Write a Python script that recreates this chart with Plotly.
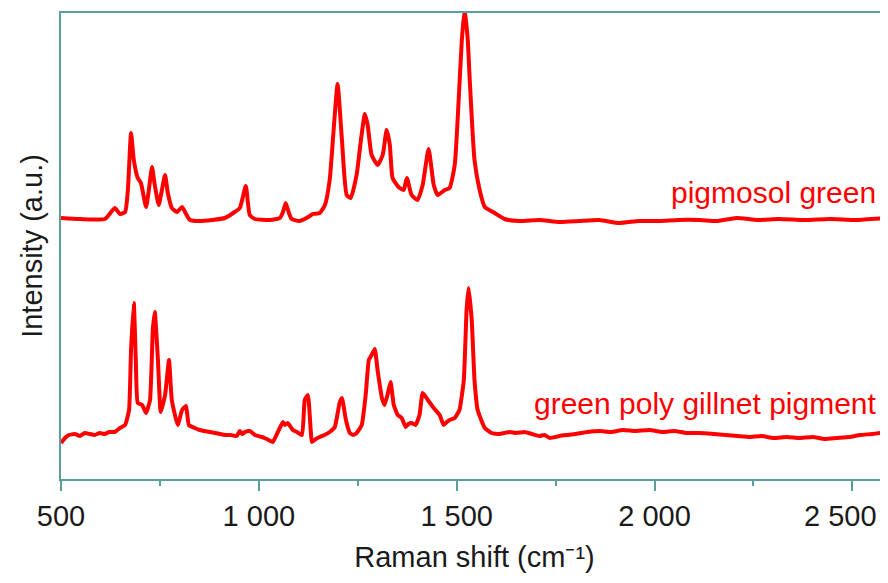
import plotly.graph_objects as go

# Raman shift (cm-1) and intensity (a.u., offset spectra as displayed)
pig_shift = [500, 548, 611, 636, 649, 662, 669, 677, 684, 694, 702, 715, 722, 730, 737, 747, 755, 763,
             770, 780, 793, 806, 816, 826, 851, 914, 939, 952, 967, 977, 990, 1028, 1053, 1061, 1068,
             1076, 1083, 1103, 1129, 1136, 1154, 1167, 1179, 1189, 1199, 1210, 1222, 1232, 1247, 1258,
             1268, 1275, 1285, 1300, 1313, 1323, 1331, 1338, 1353, 1366, 1374, 1386, 1401, 1414, 1429,
             1442, 1452, 1470, 1482, 1495, 1505, 1513, 1520, 1528, 1533, 1545, 1558, 1571, 1596, 1621,
             1659, 1709, 1760, 1810, 1860, 1911, 1960, 2012, 2060, 2113, 2160, 2207, 2260, 2315, 2380,
             2442, 2510, 2588]
pig_int = [261, 260, 260, 271, 265, 267, 289, 346, 319, 301, 296, 272, 289, 312, 294, 274, 289, 304,
           286, 271, 267, 272, 265, 259, 258, 261, 267, 271, 293, 264, 260, 259, 261, 267, 276,
           266, 260, 258, 263, 265, 266, 274, 299, 349, 395, 339, 284, 281, 304, 339,
           365, 354, 324, 314, 324, 349, 334, 301, 292, 289, 301, 284, 279, 294, 330,
           294, 284, 289, 291, 314, 379, 439, 470, 439, 399, 319, 289, 272, 266, 260,
           258, 259, 257, 258, 259, 256, 258, 258, 259, 259, 258, 261, 259, 260, 259,
           260, 259, 261]

gill_shift = [500, 510, 520, 535, 548, 560, 573, 585, 598, 610, 622, 636, 649, 662, 672, 677, 684, 689,
              694, 705, 715, 725, 732, 737, 745, 752, 763, 773, 780, 795, 806, 816, 823, 838, 850, 862,
              876, 890, 902, 914, 928, 944, 952, 958, 965, 977, 990, 1008, 1020, 1035, 1048, 1061, 1066,
              1073, 1086, 1096, 1109, 1116, 1124, 1131, 1134, 1144, 1154, 1166, 1179, 1192, 1204,
              1210, 1220, 1230, 1238, 1247, 1260, 1270, 1278, 1285, 1293, 1300, 1311, 1318, 1328, 1333,
              1341, 1351, 1361, 1371, 1378, 1386, 1396, 1406, 1414, 1427, 1442, 1457, 1467, 1475, 1482,
              1495, 1507, 1518, 1525, 1530, 1538, 1545, 1553, 1571, 1588, 1608, 1620, 1634, 1650, 1672,
              1690, 1709, 1722, 1735, 1760, 1780, 1800, 1830, 1861, 1890, 1920, 1950, 1987, 2020, 2050,
              2080, 2113, 2150, 2180, 2210, 2240, 2270, 2300, 2335, 2366, 2400, 2430, 2460, 2492, 2520,
              2550, 2570, 2588]
gill_int = [36, 41, 44, 45, 43, 46, 45, 44, 46, 45, 47, 47, 51, 54, 69, 129, 176, 119,
            76, 74, 66, 79, 149, 167, 119, 67, 84, 119, 79, 54, 69, 73, 54, 51, 49, 48,
            47, 46, 45, 44, 44, 43, 48, 45, 47, 48, 44, 42, 40, 37, 47, 57, 54,
            56, 49, 47, 44, 79, 84, 49, 37, 40, 42, 44, 47, 52, 76,
            81, 59, 46, 44, 46, 54, 84, 119, 124, 130, 109, 81, 74, 89, 97,
            74, 64, 61, 52, 55, 56, 54, 64, 86, 79, 71, 64, 54, 57, 59,
            61, 69, 99, 169, 191, 159, 99, 69, 51, 46, 45, 46, 47, 46, 47,
            45, 43, 44, 41, 43, 44, 45, 47, 48, 47, 49, 48, 49, 47, 48,
            46, 46, 45, 44, 43, 42, 43, 41, 42, 41, 42, 40, 41, 42, 44,
            45, 46, 47]

x_ticks = [500, 1000, 1500, 2000, 2500]
x_ticktext = ["500", "1 000", "1 500", "2 000", "2 500"]
labels = ["pigmosol green", "green poly gillnet pigment"]
label_pos = [(2565, 287), (2568, 76)]

RED = "#ff0000"
TEAL = "#5a9f9f"
FONT = "Arial, Liberation Sans, sans-serif"
INK = "#1a1a1a"

fig = go.Figure()
fig.add_trace(go.Scatter(x=pig_shift, y=pig_int, mode="lines",
                         line=dict(color=RED, width=4, shape="spline", smoothing=0.5),
                         showlegend=False, name=labels[0]))
fig.add_trace(go.Scatter(x=gill_shift, y=gill_int, mode="lines",
                         line=dict(color=RED, width=4, shape="spline", smoothing=0.4),
                         showlegend=False, name=labels[1]))

for txt, (lx, ly) in zip(labels, label_pos):
    fig.add_annotation(x=lx, y=ly, text=txt, showarrow=False, xanchor="right", yanchor="middle",
                       font=dict(family=FONT, size=30, color=RED))

# last tick label sits at the right edge; draw it as a text nudged inside the frame
shown_text = x_ticktext[:-1] + [""]
fig.add_annotation(x=x_ticks[-1], y=0, xref="x", yref="paper", text=x_ticktext[-1],
                   showarrow=False, xanchor="center", yanchor="middle", xshift=-12, yshift=-37,
                   font=dict(family=FONT, size=29, color=INK))

fig.update_layout(
    width=880, height=565,
    margin=dict(l=53, r=0, t=5, b=94, autoexpand=False),
    paper_bgcolor="white", plot_bgcolor="white",
    font=dict(family=FONT, color=INK),
)
fig.update_xaxes(
    range=[500, 2590], showgrid=False, zeroline=False, automargin=False,
    showline=True, linecolor=TEAL, linewidth=2, mirror=True,
    ticks="outside", ticklen=10, tickwidth=2, tickcolor=TEAL,
    tickvals=x_ticks, ticktext=shown_text,
    tickfont=dict(size=29, family=FONT, color=INK),
    minor=dict(ticks="outside", ticklen=5, tickwidth=2, tickcolor=TEAL, dtick=250, tick0=750),
    title=dict(text="Raman shift (cm⁻¹)", font=dict(size=29, family=FONT, color=INK), standoff=22),
)
fig.update_yaxes(
    range=[0, 466], showgrid=False, zeroline=False, automargin=False,
    showline=True, linecolor=TEAL, linewidth=2, mirror=False,
    ticks="", showticklabels=False,
    title=dict(text="Intensity (a.u.)", font=dict(size=29, family=FONT, color=INK), standoff=8),
)

fig.write_html("out.html")
